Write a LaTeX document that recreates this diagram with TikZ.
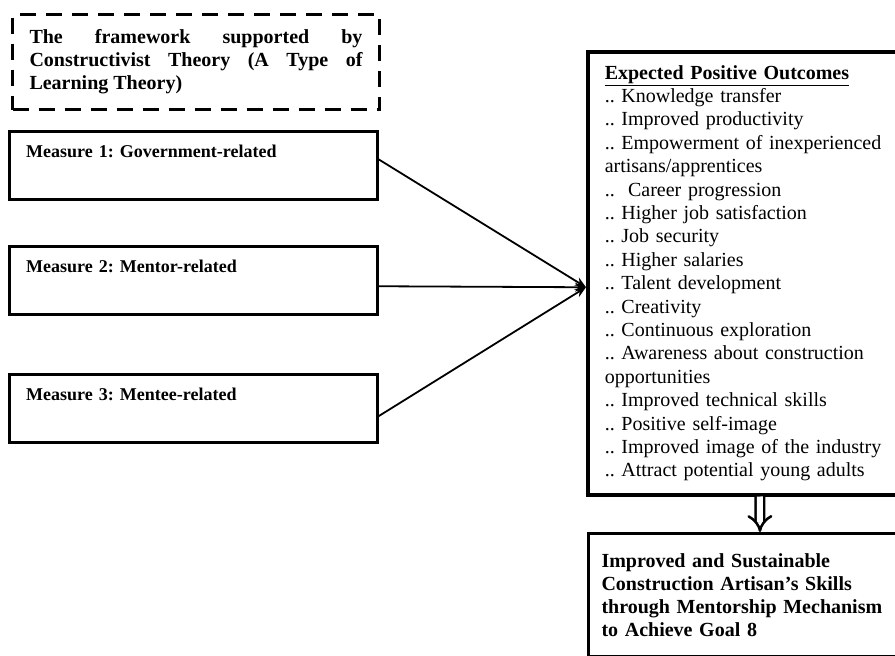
\documentclass[tikz,border=0pt]{standalone}
\usepackage{fontspec}
\setmainfont{Liberation Serif}
\frenchspacing
\hyphenpenalty=10000
\usetikzlibrary{arrows, arrows.meta}
\tikzstyle{theory} = [rectangle, draw, line width=3pt, dash pattern=on 16pt off 10pt, anchor=north west, text width=333pt, inner xsep=17pt, inner ysep=0pt, minimum height=95pt, align=justify, font=\fontsize{20}{23}\selectfont\bfseries]
\tikzstyle{measure} = [rectangle, draw, line width=2.5pt, anchor=north west, text width=334pt, inner xsep=17pt, inner ysep=0pt, align=left, text height=26pt, text depth=42pt, font=\fontsize{18}{21}\selectfont\bfseries]
\tikzstyle{outcome} = [rectangle, draw, line width=3.5pt, anchor=north west, text width=280pt, inner xsep=17pt, inner ysep=0pt, minimum height=443pt, align=left, font=\fontsize{20}{23.4}\selectfont]
\tikzstyle{goal} = [rectangle, draw, line width=3pt, anchor=north west, text width=287pt, inner xsep=13pt, inner ysep=0pt, minimum height=123pt, align=left, font=\fontsize{20}{23}\selectfont\bfseries]
\tikzstyle{arrow} = [line width=1.8pt,->,>={Stealth[length=11pt,width=9pt]}]
\tikzstyle{bigarrow} = [line width=2.5pt, double distance=6pt, -{Implies}]

\begin{document}
\begin{tikzpicture}[x=1pt, y=-1pt]
  \useasboundingbox (0,0) rectangle (895,656);

  \node (theory) [theory] at (11,13) {The framework supported by\linebreak Constructivist Theory (A Type of\linebreak Learning Theory)};

  \node (m1) [measure] at (8,130) {Measure 1: Government-related};
  \node (m2) [measure] at (8,245) {Measure 2: Mentor-related};
  \node (m3) [measure] at (8,373) {Measure 3: Mentee-related};

  \node (outcomes) [outcome] at (586,50) {\textbf{\underline{Expected Positive Outcomes}}\\
    .. Knowledge transfer\\
    .. Improved productivity\\
    .. Empowerment of inexperienced\\
    artisans/apprentices\\
    ..\ \ Career progression\\
    .. Higher job satisfaction\\
    .. Job security\\
    .. Higher salaries\\
    .. Talent development\\
    .. Creativity\\
    .. Continuous exploration\\
    .. Awareness about construction\\
    opportunities\\
    .. Improved technical skills\\
    .. Positive self-image\\
    .. Improved image of the industry\\
    .. Attract potential young adults};

  \node (goal) [goal] at (587,532) {Improved and Sustainable\\ Construction Artisan's Skills\\ through Mentorship Mechanism\\ to Achieve Goal 8};

  \draw [arrow] ([yshift=6pt]m1.east) -- ([yshift=-14pt]outcomes.west);
  \draw [arrow] ([yshift=-6pt]m2.east) -- ([yshift=-14pt]outcomes.west);
  \draw [arrow] ([yshift=-8pt]m3.east) -- ([yshift=-14pt]outcomes.west);
  \draw [bigarrow] ([xshift=15pt]outcomes.south) -- ([xshift=15pt]goal.north);
\end{tikzpicture}
\end{document}
